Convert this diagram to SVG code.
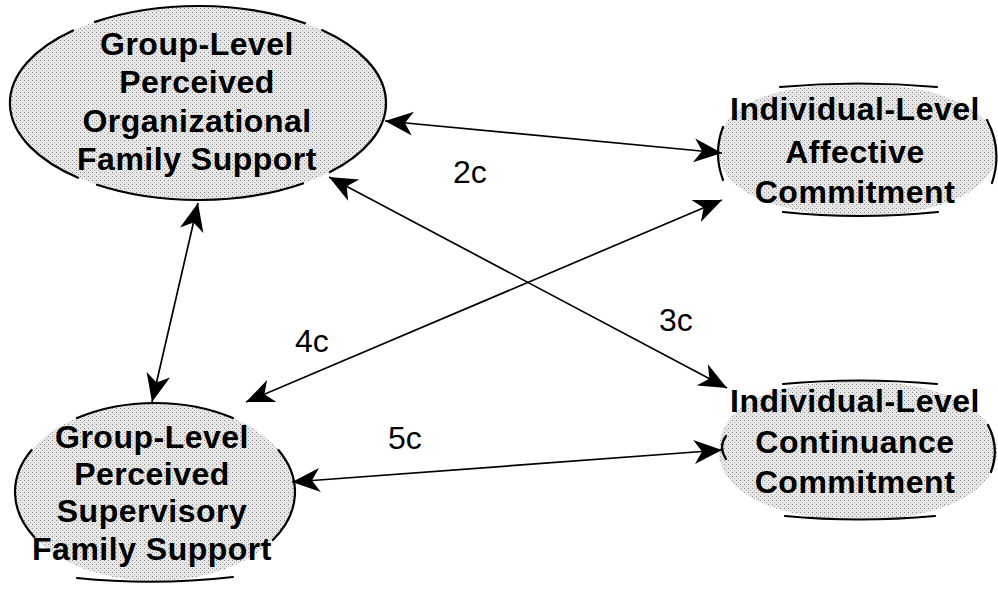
<svg xmlns="http://www.w3.org/2000/svg" width="998" height="591" viewBox="0 0 998 591">
  <defs>
    <!-- fine grey stipple used inside every construct -->
    <pattern id="stipple" width="4" height="4" patternUnits="userSpaceOnUse">
      <rect width="4" height="4" fill="#e6e6e6"/>
      <rect x="0" y="0" width="1" height="1" fill="#8c8c8c"/>
      <rect x="2" y="2" width="1" height="1" fill="#b4b4b4"/>
    </pattern>
    <marker id="head" markerUnits="userSpaceOnUse" markerWidth="32" markerHeight="28"
            viewBox="-30 -14 32 28" refX="0" refY="0" orient="auto-start-reverse">
      <path d="M0,0 L-28,-12 L-20,0 L-28,12 Z" fill="#000"/>
    </marker>
  </defs>
  <style>
    .fill { fill: url(#stipple); stroke: none; }
    .rim { fill: none; stroke: #000; stroke-width: 2.2; stroke-linecap: round; }
    .label { font-family: "Liberation Sans", Arial, sans-serif; font-size: 32px; font-weight: bold; fill: #000; text-anchor: middle; letter-spacing: 0.5px; }
    .path-id { font-family: "Liberation Sans", Arial, sans-serif; font-size: 32px; fill: #000; }
    .link { fill: none; stroke: #000; stroke-width: 1.7; marker-start: url(#head); marker-end: url(#head); }
  </style>

  <rect width="998" height="591" fill="#fff"/>

  <!-- Group-level perceived organizational family support -->
  <g id="org-support">
    <ellipse class="fill" cx="198" cy="103" rx="188" ry="97"/>
    <path class="rim" d="M95,21.9 A188,97 0 0 1 305,23.2"/>
    <path class="rim" d="M322,30.1 A188,97 0 0 1 330,172.1"/>
    <path class="rim" d="M303,183.5 A188,97 0 0 1 97,184.8"/>
    <path class="rim" d="M78,177.7 A188,97 0 0 1 73,30.5"/>
    <text class="label" x="197" y="55">Group-Level</text>
    <text class="label" x="197" y="93">Perceived</text>
    <text class="label" x="197" y="132">Organizational</text>
    <text class="label" x="197" y="170">Family Support</text>
  </g>

  <!-- Individual-level affective commitment -->
  <g id="affective">
    <path class="fill" d="M858,84 C940,84 997,110 997,150 C997,190 940,216 858,216 C776,216 718,190 718,150 C718,110 760,84 858,84 Z"/>
    <path class="rim" d="M780,87 Q858,80 937,87"/>
    <path class="rim" d="M723,127 Q713,153 723,180"/>
    <path class="rim" d="M987,120 Q1003,150 992,183"/>
    <path class="rim" d="M783,212 Q858,220 938,212"/>
    <text class="label" x="855" y="120">Individual-Level</text>
    <text class="label" x="855" y="163">Affective</text>
    <text class="label" x="855" y="203">Commitment</text>
  </g>

  <!-- Individual-level continuance commitment -->
  <g id="continuance">
    <path class="fill" d="M858,381 C940,381 997,410 997,451 C997,492 940,520 858,520 C776,520 719,492 719,451 C719,410 760,381 858,381 Z"/>
    <path class="rim" d="M783,384 Q858,377 937,384"/>
    <path class="rim" d="M726,436 Q718,447 726,459"/>
    <path class="rim" d="M988,425 Q1000,448 991,472"/>
    <path class="rim" d="M785,516 Q858,523 935,516"/>
    <text class="label" x="855" y="412">Individual-Level</text>
    <text class="label" x="855" y="453">Continuance</text>
    <text class="label" x="855" y="493">Commitment</text>
  </g>

  <!-- Group-level perceived supervisory family support -->
  <g id="sup-support">
    <ellipse class="fill" cx="155" cy="492" rx="140" ry="89"/>
    <path class="rim" d="M77,418.1 A140,89 0 0 1 233,418.1"/>
    <path class="rim" d="M278.4,450 A140,89 0 0 1 272.9,540"/>
    <path class="rim" d="M233,577 Q155,586 77,578"/>
    <path class="rim" d="M34.2,537 A140,89 0 0 1 31.6,450"/>
    <text class="label" x="152" y="448">Group-Level</text>
    <text class="label" x="152" y="485">Perceived</text>
    <text class="label" x="152" y="522">Supervisory</text>
    <text class="label" x="152" y="560">Family Support</text>
  </g>

  <!-- two-headed paths between constructs -->
  <g id="connectors">
    <path class="link" d="M385,121 L722,153"/>
    <path class="link" d="M329,177 L727,388"/>
    <path class="link" d="M722,200 L246,402"/>
    <path class="link" d="M198,203 L152,402"/>
    <path class="link" d="M292,482 L722,450"/>
    <text class="path-id" x="453" y="183">2c</text>
    <text class="path-id" x="659" y="331">3c</text>
    <text class="path-id" x="295" y="352">4c</text>
    <text class="path-id" x="388" y="449">5c</text>
  </g>
</svg>
